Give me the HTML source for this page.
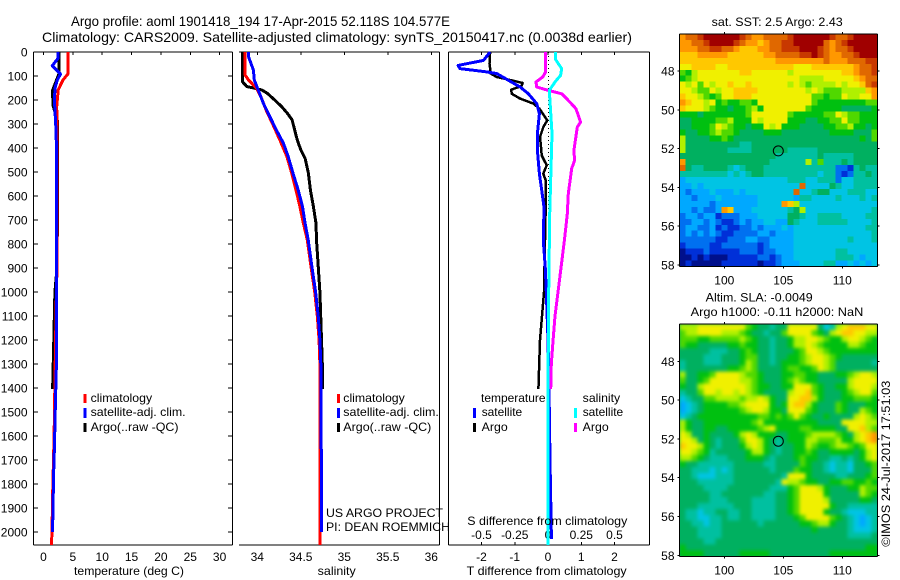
<!DOCTYPE html>
<html>
<head>
<meta charset="utf-8">
<title>Argo profile</title>
<style>
html,body{margin:0;padding:0;background:#fff;width:900px;height:580px;overflow:hidden}
svg{display:block}
text{font-family:"Liberation Sans",sans-serif;font-size:12px;fill:#000}
.t{font-size:14px}
</style>
</head>
<body>
<svg id="fig" xmlns="http://www.w3.org/2000/svg" width="900" height="580" viewBox="0 0 900 580">
<defs>
<filter id="slaSmooth" x="-5%" y="-5%" width="110%" height="110%" color-interpolation-filters="sRGB"><feGaussianBlur stdDeviation="1.8"/></filter>
<clipPath id="slaClip"><rect x="679.5" y="324" width="198" height="232.5"/></clipPath>
</defs>
<rect x="0" y="0" width="900" height="580" fill="#fff"/>
<g id="mapLayer"></g>
<g id="axisLayer"></g>
<g id="lineLayer"></g>
<text class="t" x="71" y="26" textLength="379" lengthAdjust="spacingAndGlyphs">Argo profile: aoml 1901418_194 17-Apr-2015 52.118S 104.577E</text>
<text class="t" x="42" y="42" textLength="590" lengthAdjust="spacingAndGlyphs">Climatology: CARS2009. Satellite-adjusted climatology: synTS_20150417.nc (0.0038d earlier)</text>
<text x="74" y="575" textLength="110" lengthAdjust="spacingAndGlyphs">temperature (deg C)</text>
<text x="317.7" y="575" textLength="38" lengthAdjust="spacingAndGlyphs">salinity</text>
<text x="466.7" y="575" textLength="160" lengthAdjust="spacingAndGlyphs">T difference from climatology</text>
<text x="467.3" y="525" textLength="160" lengthAdjust="spacingAndGlyphs">S difference from climatology</text>

<g>
<rect x="83.5" y="394" width="3" height="9" fill="#f00"/>
<rect x="83.5" y="408" width="3" height="10" fill="#00f"/>
<rect x="83.5" y="423" width="3" height="9" fill="#000"/>
<text x="90.6" y="402" textLength="61.5" lengthAdjust="spacingAndGlyphs">climatology</text>
<text x="90.6" y="416" textLength="95" lengthAdjust="spacingAndGlyphs">satellite-adj. clim.</text>
<text x="90.6" y="431" textLength="88" lengthAdjust="spacingAndGlyphs">Argo(..raw -QC)</text>
</g>
<g>
<rect x="337" y="394" width="3" height="9" fill="#f00"/>
<rect x="337" y="408" width="3" height="10" fill="#00f"/>
<rect x="337" y="423" width="3" height="9" fill="#000"/>
<text x="343.3" y="402" textLength="61.5" lengthAdjust="spacingAndGlyphs">climatology</text>
<text x="343.3" y="416" textLength="95.5" lengthAdjust="spacingAndGlyphs">satellite-adj. clim.</text>
<text x="343.3" y="431" textLength="88" lengthAdjust="spacingAndGlyphs">Argo(..raw -QC)</text>
</g>
<g>
<text x="481" y="402" textLength="64.5" lengthAdjust="spacingAndGlyphs">temperature</text>
<text x="582.7" y="402" textLength="37.5" lengthAdjust="spacingAndGlyphs">salinity</text>
<rect x="473" y="408" width="3" height="10" fill="#00f"/>
<rect x="473" y="423" width="3" height="9" fill="#000"/>
<rect x="574" y="408" width="3" height="10" fill="#0ff"/>
<rect x="574" y="423" width="3" height="9" fill="#f0f"/>
<text x="481.7" y="416" textLength="40.5" lengthAdjust="spacingAndGlyphs">satellite</text>
<text x="481.7" y="431" textLength="26" lengthAdjust="spacingAndGlyphs">Argo</text>
<text x="582.7" y="416" textLength="40.5" lengthAdjust="spacingAndGlyphs">satellite</text>
<text x="582.7" y="431" textLength="26" lengthAdjust="spacingAndGlyphs">Argo</text>
</g>
<text x="326" y="517" textLength="117" lengthAdjust="spacingAndGlyphs">US ARGO PROJECT</text>
<text x="326" y="531" textLength="124" lengthAdjust="spacingAndGlyphs">PI: DEAN ROEMMICH</text>
<text x="711.7" y="26" textLength="131" lengthAdjust="spacingAndGlyphs">sat. SST: 2.5 Argo: 2.43</text>
<text x="705.7" y="301.5" textLength="107" lengthAdjust="spacingAndGlyphs">Altim. SLA: -0.0049</text>
<text x="690.7" y="316" textLength="172.6" lengthAdjust="spacingAndGlyphs">Argo h1000: -0.11 h2000: NaN</text>
<text transform="translate(890 546.7) rotate(-90)" textLength="166" lengthAdjust="spacingAndGlyphs">©IMOS 24-Jul-2017 17:51:03</text>
</svg>
<script>
// ---- tick labels
var depthTicks = [0,100,200,300,400,500,600,700,800,900,1000,1100,1200,1300,1400,1500,1600,1700,1800,1900,2000];
var tempTicks = [0,5,10,15,20,25,30];
var salTicks = [34,34.5,35,35.5,36];
var diffTTicks = [-2,-1,0,1,2];
var diffSTicks = [-0.5,-0.25,0,0.25,0.5];
var lonTicks = [100,105,110];
var latTicks = [48,50,52,54,56,58];

// ---- temperature panel
var climTempDepth = [0,90,117,158,200,228,300,600,900,1000,1300,1600,1850,2000,2054];
var climTemp = [4.2,4.2,3.3,2.5,2.35,2.25,2.3,2.3,2.3,2.2,2,1.8,1.55,1.45,1.35];
var satTempDepth = [0,27,57,92,117,150,200,325,440,620,1000,1300,1500,1650,1800,1900,2000];
var satTemp = [2.5,2.45,1.5,2.9,2.35,1.96,1.85,2.13,2.25,2.25,2.25,2.2,2,1.85,1.67,1.65,1.5];
var argoTempDepth = [0,90,105,160,220,290,600,900,1000,1200,1405];
var argoTemp = [2.65,2.65,2.4,1.55,1.6,2.4,2.4,2.3,1.95,1.75,1.55];

// ---- salinity panel
var climSalDepth = [0,96,117,151,185,241,311,367,436,505,575,644,714,783,900,1000,1100,1200,1300,2054];
var climSal = [33.86,33.86,33.9,33.99,34.04,34.1,34.19,34.26,34.34,34.395,34.445,34.49,34.53,34.575,34.62,34.66,34.69,34.71,34.72,34.72];
var satSalDepth = [0,20,40,75,117,158,214,270,325,380,436,505,575,644,714,783,900,1000,1100,1200,1300,2000];
var satSal = [33.9,33.9,33.92,33.955,33.965,34.01,34.07,34.145,34.22,34.3,34.355,34.41,34.47,34.52,34.55,34.585,34.63,34.67,34.7,34.72,34.73,34.74];
var argoSalDepth = [0,124,144,151,158,172,200,228,255,283,311,367,408,443,505,575,644,714,783,1000,1300,1405];
var argoSal = [33.83,33.83,33.88,33.97,34.05,34.115,34.2,34.28,34.345,34.4,34.42,34.46,34.5,34.55,34.587,34.61,34.645,34.675,34.68,34.72,34.747,34.747];

// ---- difference panel
var diffTSatDepth = [0,35,56,69,83,90,118,146,174,215,257,340,424,507,576,646,785,900,1000,1200,1400,1700,2000,2030];
var diffTSat = [-1.74,-1.94,-2.7,-2.65,-1.84,-1.54,-1.19,-0.84,-0.59,-0.34,-0.26,-0.32,-0.31,-0.26,-0.19,-0.12,-0.14,-0.08,-0.05,0,0.03,0.06,0.1,0.1];
var diffTArgoDepth = [0,49,90,104,115,129,142,157,174,194,215,236,285,313,354,396,431,472,507,535,646,785,1000,1200,1405];
var diffTArgo = [-1.74,-1.76,-1.72,-1.54,-1.19,-0.76,-0.8,-1.11,-1.09,-0.84,-0.44,-0.26,-0.02,-0.14,-0.24,-0.21,-0.19,-0.04,-0.14,-0.07,-0.07,-0.09,-0.12,-0.24,-0.29];
var diffSSatDepth = [0,29,49,69,97,125,160,340,674,1000,1400,2054];
var diffSSat = [0.058,0.055,0.078,0.103,0.095,0.053,0.01,0.03,0.013,0.005,0,0];
var diffSArgoDepth = [0,83,104,125,146,160,174,194,236,292,313,410,451,486,590,674,785,1000,1100,1200,1300,1405];
var diffSArgo = [-0.017,-0.017,-0.04,-0.09,-0.085,0.003,0.103,0.14,0.21,0.245,0.22,0.195,0.2,0.178,0.153,0.145,0.123,0.075,0.053,0.038,0.025,0.02];

// ---- map grids: one hex colour-class digit per cell, 33 columns by 39 rows
var sstGrid = [
"cddeffffffedccddddeffffffeddeffff",
"ccddeffffedccbcddeefffffdcdefffff",
"cccddeeddcbbbccddeeefffedcddeffff",
"bbbcccccbbbbbbccddddeefedccddefff",
"bbbbbbbbbbbbbbbbccccccccdcccdddee",
"aabbbbaabbbbbbbbbbbaaabbbbbbbcdde",
"879aaaaaaabbaaaaaa9aaaaaaaabbcdde",
"789aaaaaaaaaaaaaaaaa9999aaaaabcdd",
"a9a8a9aabaabaaaaaa9a989999a9aabde",
"aa988a9aabbbbaaaaaaaa9a98889999bc",
"baa9878aabbbaaaaaaaaaa88788a99aac",
"cbaa9a7877887aaaaaaaaa87777777788",
"baaa9877677897aaaaaaa877777666667",
"777677777778aaaaaa87777788a988777",
"667777889777a9aaaa777667788a88777",
"667778a9877677a9a7776666778897767",
"766778988766667776666666677776668",
"966667787666666666666666666666768",
"966666666655666666666666666666666",
"966666665555666666555556666666666",
"666666666666666655555556555556666",
"c66666666666666555555958555656666",
"d65566665456665555555555552215655",
"555555554545665555555554552125565",
"344444444444444444555445552445555",
"33434444444444444444d444465445555",
"3233343334344444444d4456644455544",
"332333433333344444435544445444545",
"33333233333334444cb94444444444444",
"3323223cb3334444445694444444444455",
"233233122233344444665445555444455",
"223323211232334433654445555544445",
"233223121122323334344444444444455",
"232323211222233233344444444444445",
"222222112223322333344444444454445",
"122221122222212333344444444444444",
"011121111122212233344444445544444",
"001010001111122123344444445554344",
"010000011111101123334444553343434"
];
var slaGrid = [
"999aaaaaaaa8766566aaaaa6459abbbaa",
"899aaaa99987665668aaaa8769abbaa99",
"888778888898766566799aa98779aa987",
"877666667787766566799a98777799877",
"666665556678766566678aa9877777777",
"6666555666788665667789aa987666666",
"5666555666798665677789aa986666665",
"56666666778986666788778a986666666",
"966778aaaa98876667788776667789aa9",
"86678aaaaa9987666789877666669aaaa",
"7669aaaaaaa98776677aaa8766779aaa9",
"5668aa9aa9a98766669aab87666789aa8",
"4566889999899a9766aabb97666778887",
"34567777889aaaa767abb976668766677",
"345677777789aa9776aaa876668766987",
"4567777777777887878a8766766669a98",
"976677777777897777777776666aaaa99",
"976677667777789a777788777766aab98",
"a9667666679a977766777899998769abc",
"aa967656668aa97656777998889779abc",
"baa976566679a976566779877899878aa",
"aa987566666799765667787667777679a",
"99876555666777656667877665565679a",
"766555555666665566668766545546678",
"665554545666666566687766545546668",
"665444555666666665aaa766665566678",
"66655555566666665a998776677887787",
"66665555666666655578aaa976667798",
"666665566666665566 78aaaa766666987".replace(" ",""),
"66666555666655556678aaaa966666776",
"66655555566655556678aaaaa76655555",
"65545566556655556678aaaa76654445",
"6554455655665555666 78aaaa87654345".replace(" ",""),
"665545566666656666667789976654345",
"666555566666666666666676666654445",
"666555566666666666666666666655556",
"666655666666666666666666666666666",
"766666666666666666666666666666677",
"777766666677777666666666677777777"
];
var colorClasses = ["#00108c","#0030d8","#0070f0","#00a8ff","#00c4e4","#00c0a0","#00b060","#00c010","#50d800","#b0f000","#f0f000","#ffc800","#ff9800","#e06800","#c83800","#a00000"];
var profileLon = 104.577;
var profileLat = 52.118;

// ---- axis functions
function depthY(d){ return 52 + 0.24 * d; }
function tempX(t){ return 43.5 + 5.87 * t; }
function salX(s){ return 257.3 + 87 * (s - 34); }
function diffTX(t){ return 548 + 33.25 * t; }
function diffSX(s){ return 548 + 133 * s; }
function lonX(lon){ return 724.3 + 11.8 * (lon - 100); }
function sstLatY(lat){ return 71 + 19.4 * (lat - 48); }
function slaLatY(lat){ return 361.3 + 19.4 * (lat - 48); }

var NS = "http://www.w3.org/2000/svg";
var mapLayer = document.getElementById("mapLayer");
var axisLayer = document.getElementById("axisLayer");
var lineLayer = document.getElementById("lineLayer");
function mk(parent, tag, attrs){
  var el = document.createElementNS(NS, tag);
  for (var k in attrs) el.setAttribute(k, attrs[k]);
  parent.appendChild(el);
  return el;
}
function line(x1,y1,x2,y2,name,dash){
  var el = mk(axisLayer,"line",{x1:x1,y1:y1,x2:x2,y2:y2,stroke:"#000","stroke-width":1,"shape-rendering":"crispEdges"});
  if (dash) el.setAttribute("stroke-dasharray",dash);
  
  
  return el;
}
function label(x,y,anchor,str,name){
  var el = mk(axisLayer,"text",{x:x,y:y,"text-anchor":anchor});
  el.textContent = str;
  
  
  return el;
}
function series(depths, vals, xFn, color, name, width){
  var pts = depths.map(function(d,i){ return xFn(vals[i]).toFixed(1)+","+depthY(d).toFixed(1); }).join(" ");
  var el = mk(lineLayer,"polyline",{points:pts,fill:"none",stroke:color,"stroke-width":width||3,"shape-rendering":"crispEdges","stroke-linejoin":"round"});
  
  
  return el;
}
function drawMap(grid, top, bottom, latY, mapName, smooth){
  var left = 679.5, right = 877.5;
  var cw = (right-left)/33, ch = (bottom-top)/grid.length;
  var holder = mk(mapLayer,"g",{});
  
  
  var target = holder;
  if (smooth){
    holder.setAttribute("clip-path","url(#slaClip)");
    var under = mk(holder,"rect",{x:left,y:top,width:right-left,height:bottom-top,fill:colorClasses[6]});
    
    
    target = mk(holder,"g",{filter:"url(#slaSmooth)"});
    
    
  }
  grid.forEach(function(row, r){
    for (var c = 0; c < 33; c++){
      var v = parseInt(row.charAt(Math.min(c,row.length-1)),16);
      var cell = mk(target,"rect",{x:(left+c*cw).toFixed(2),y:(top+r*ch).toFixed(2),width:(cw+0.4).toFixed(2),height:(ch+0.4).toFixed(2),fill:colorClasses[v],"shape-rendering":"crispEdges"});
      
      
    }
  });
  line(left,top,right,top,mapName+'-top-border');
  line(left,bottom,right,bottom,mapName+'-bottom-border');
  line(left,top,left,bottom,mapName+'-left-border');
  line(right,top,right,bottom,mapName+'-right-border');
  lonTicks.forEach(function(v){
    line(lonX(v),top,lonX(v),top-2,mapName+'-top-tick');
    line(lonX(v),bottom,lonX(v),bottom+2,mapName+'-bottom-tick');
    label(lonX(v),bottom+18,"middle",String(v),mapName+'-lon-label');
  });
  latTicks.forEach(function(v){
    line(left,latY(v),left-2,latY(v),mapName+'-left-tick');
    line(right,latY(v),right+2,latY(v),mapName+'-right-tick');
    label(674.5,latY(v)+4.5,"end",String(v),mapName+'-lat-label');
  });
  var circ = mk(axisLayer,"circle",{cx:lonX(profileLon),cy:latY(profileLat),r:5,fill:"none",stroke:"#000","stroke-width":1});
  
  
}

// ---- maps
drawMap(sstGrid, 34, 266.5, sstLatY, 'sst-map', false);
drawMap(slaGrid, 324, 556.5, slaLatY, 'sla-map', true);

// ---- temperature axes
var T = 52, B = 545;
line(33.5,T,232.5,T,'temperature-top-border');
line(33.5,B,232.5,B,'temperature-bottom-border');
line(33.5,T,33.5,B,'temperature-left-border');
line(232.5,T,232.5,B,'temperature-right-border');
depthTicks.forEach(function(d){
  line(33.5,depthY(d),38,depthY(d),'depth-tick-left');
  line(232.5,depthY(d),228,depthY(d),'depth-tick-right');
  label(27.5,depthY(d)+4.5,"end",String(d),'depth-tick-label');
});
tempTicks.forEach(function(v){
  line(tempX(v),T,tempX(v),T+3,'temperature-tick');
  label(tempX(v),561,"middle",String(v),'temperature-tick-label');
});

// ---- salinity axes
line(239,T,439.5,T,'salinity-top-border');
line(239,B,439.5,B,'salinity-bottom-border');
line(439.5,T,439.5,B,'salinity-right-border');
salTicks.forEach(function(v){
  line(salX(v),T,salX(v),T+3,'salinity-tick');
  label(salX(v),561,"middle",String(v),'salinity-tick-label');
});

// ---- difference axes
line(448.5,T,649.5,T,'difference-top-border');
line(448.5,B,649.5,B,'difference-bottom-border');
line(448.5,T,448.5,B,'difference-left-border');
line(649.5,T,649.5,B,'difference-right-border');
diffTTicks.forEach(function(v){
  line(diffTX(v),T,diffTX(v),T+3,'t-difference-top-tick');
  line(diffTX(v),B,diffTX(v),B-3,'t-difference-bottom-tick');
  label(diffTX(v),561,"middle",String(v),'t-difference-tick-label');
});
diffSTicks.forEach(function(v){
  label(diffSX(v),539,"middle",String(v),'s-difference-tick-label');
});
line(diffTX(0)+0.5,T,diffTX(0)+0.5,B,'zero-difference-line','1 3');

// ---- profile lines
series(argoTempDepth,argoTemp,tempX,"#000",'argo-temperature-line');
series(climTempDepth,climTemp,tempX,"#f00",'climatology-temperature-line');
series(satTempDepth,satTemp,tempX,"#00f",'satellite-temperature-line');

series(argoSalDepth,argoSal,salX,"#000",'argo-salinity-line');
series(climSalDepth,climSal,salX,"#f00",'climatology-salinity-line');
series(satSalDepth,satSal,salX,"#00f",'satellite-salinity-line');

series(diffTArgoDepth,diffTArgo,diffTX,"#000",'argo-t-difference-line',2.5);
series(diffTSatDepth,diffTSat,diffTX,"#00f",'satellite-t-difference-line');
series(diffSArgoDepth,diffSArgo,diffSX,"#f0f",'argo-s-difference-line');
series(diffSSatDepth,diffSSat,diffSX,"#0ff",'satellite-s-difference-line');
</script>
</body>
</html>
